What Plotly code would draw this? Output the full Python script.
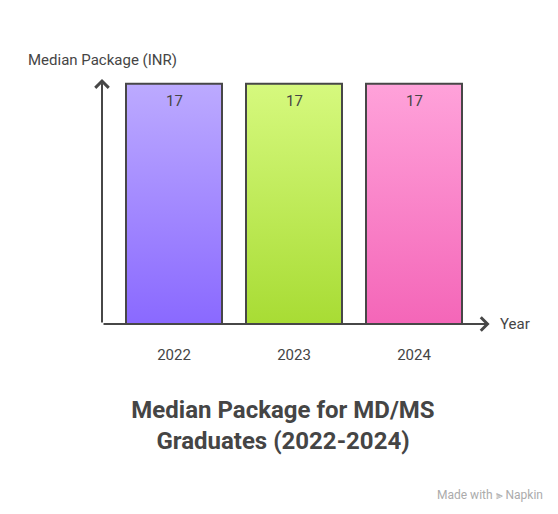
import plotly.graph_objects as go

years = ["2022", "2023", "2024"]
median_package = [17, 17, 17]
top_colors = ["#bcaaff", "#d6f97e", "#ffa2da"]
bottom_colors = ["#8a69ff", "#a8dc34", "#f466b8"]

BAR_W = 0.8
EDGE = "#474747"
TXT = "#454545"
FONT = "Roboto"

fig = go.Figure()

# gradient bars: filled polygons built from each value
for i, (yr, v) in enumerate(zip(years, median_package)):
    x0, x1 = i - BAR_W / 2, i + BAR_W / 2
    fig.add_trace(go.Scatter(
        x=[x0, x0, x1, x1, x0],
        y=[0, v, v, 0, 0],
        mode="lines",
        fill="toself",
        fillgradient=dict(
            type="vertical",
            colorscale=[[0, bottom_colors[i]], [1, top_colors[i]]],
        ),
        line=dict(color=EDGE, width=2),
        hoverinfo="skip",
        showlegend=False,
    ))
    # value label just inside the top of the bar
    fig.add_annotation(x=i, y=v, xref="x", yref="y", yshift=-17,
                       text=str(v), showarrow=False,
                       font=dict(size=15, color=TXT, family=FONT),
                       xanchor="center", yanchor="middle")

y_top = max(median_package) * 1.02
x_left = -0.6
x_right = len(years) - 1 + 0.63

# axis arrows
fig.add_annotation(x=x_left, y=y_top, ax=x_left, ay=0, xref="x", yref="y",
                   axref="x", ayref="y", showarrow=True, arrowhead=4,
                   arrowsize=1.3, arrowwidth=2, arrowcolor=EDGE, text="")
fig.add_annotation(x=x_right, y=0, ax=x_left, ay=0, xref="x", yref="y",
                   axref="x", ayref="y", showarrow=True, arrowhead=4,
                   arrowsize=1.3, arrowwidth=2, arrowcolor=EDGE, text="")

fig.add_annotation(x=x_left, y=1.0, xref="x", yref="paper", yshift=8,
                   text="Median Package (INR)", showarrow=False,
                   font=dict(size=15, color=TXT, family=FONT),
                   xanchor="center", yanchor="bottom")
fig.add_annotation(x=x_right, y=0, xref="x", yref="y", xshift=8,
                   text="Year", showarrow=False,
                   font=dict(size=15, color=TXT, family=FONT),
                   xanchor="left", yanchor="middle")
fig.add_annotation(x=537 / 550, y=(316 - 487) / 245, xref="paper", yref="paper",
                   text="Made with ⫸ Napkin", showarrow=False,
                   font=dict(size=12, color="#ababab", family=FONT),
                   xanchor="right", yanchor="middle")

fig.update_layout(
    width=550, height=506,
    margin=dict(l=0, r=0, t=71, b=190),
    plot_bgcolor="white", paper_bgcolor="white",
    title=dict(
        text="<b>Median Package for MD/MS<br>Graduates (2022-2024)</b>",
        x=0.5, xanchor="center", y=1 - 410 / 506, yanchor="middle",
        yref="container",
        font=dict(size=24, color=TXT, family=FONT),
    ),
    xaxis=dict(
        range=[-166 / 120, (550 - 166) / 120],
        tickmode="array", tickvals=list(range(len(years))), ticktext=years,
        showgrid=False, zeroline=False, showline=False,
        ticks="outside", ticklen=17, tickcolor="rgba(0,0,0,0)",
        tickfont=dict(size=15, color=TXT, family=FONT),
        fixedrange=True,
    ),
    yaxis=dict(
        range=[0, y_top], visible=False, fixedrange=True,
    ),
)

fig.write_html("out.html")
